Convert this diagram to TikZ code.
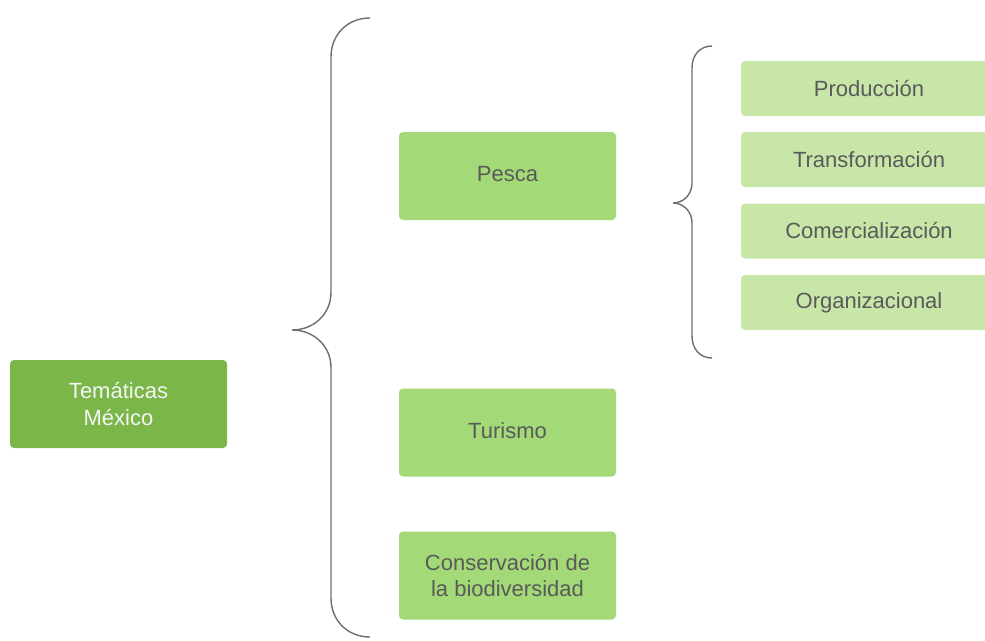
\documentclass[tikz,border=0pt]{standalone}
\usepackage{fontspec}
\setmainfont{Liberation Sans}
\usepackage{tikz}

\definecolor{darkleaf}{HTML}{7AB648}
\definecolor{leaf}{HTML}{A3D977}
\definecolor{paleleaf}{HTML}{C7E6A8}
\definecolor{labelgray}{HTML}{5A5A5A}
\definecolor{bracegray}{HTML}{6E6E6E}

\tikzset{
  topicbox/.style={rounded corners=4pt, minimum width=217pt, minimum height=88pt,
    inner sep=0pt, align=center, font=\fontsize{22}{26.5}\selectfont},
  subbox/.style={rounded corners=4pt, fill=paleleaf, text=labelgray, minimum width=256pt,
    minimum height=55pt, inner sep=0pt, font=\fontsize{22}{26}\selectfont},
  bracepath/.style={draw=bracegray, line width=1.4pt}
}

\begin{document}
\begin{tikzpicture}[x=1pt,y=1pt]
\useasboundingbox (0,0) rectangle (985,-640);
\clip (0,0) rectangle (985,-640);
% main topic
\node [topicbox, fill=darkleaf, text=white!96!black] (tematicas) at (118.5,-404) {Temáticas\\México};
% big brace
\draw [bracepath] (370,-18) .. controls (347,-18) and (331,-35) .. (331,-57) -- (331,-292)
  .. controls (331,-315) and (313,-330) .. (292,-330)
  .. controls (313,-330) and (331,-345) .. (331,-368) -- (331,-598)
  .. controls (331,-620) and (347,-637) .. (370,-637);
% second level
\node [topicbox, fill=leaf, text=labelgray] (pesca) at (507.5,-176) {\raisebox{4pt}{Pesca}};
\node [topicbox, fill=leaf, text=labelgray] (turismo) at (507.5,-432.5) {\raisebox{4pt}{Turismo}};
\node [topicbox, fill=leaf, text=labelgray] (conservacion) at (507.5,-575.5) {Conservación de\\la biodiversidad};
% small brace
\draw [bracepath] (712,-46) .. controls (700,-46) and (692,-55) .. (692,-68) -- (692,-183)
  .. controls (692,-195) and (683,-203) .. (673,-203)
  .. controls (683,-203) and (692,-211) .. (692,-223) -- (692,-336)
  .. controls (692,-349) and (700,-358) .. (712,-358);
% third level
\node [subbox] (produccion) at (869,-88.5) {Producción};
\node [subbox] (transformacion) at (869,-159.5) {Transformación};
\node [subbox] (comercializacion) at (869,-231) {Comercialización};
\node [subbox] (organizacional) at (869,-302.5) {Organizacional};
\end{tikzpicture}
\end{document}
